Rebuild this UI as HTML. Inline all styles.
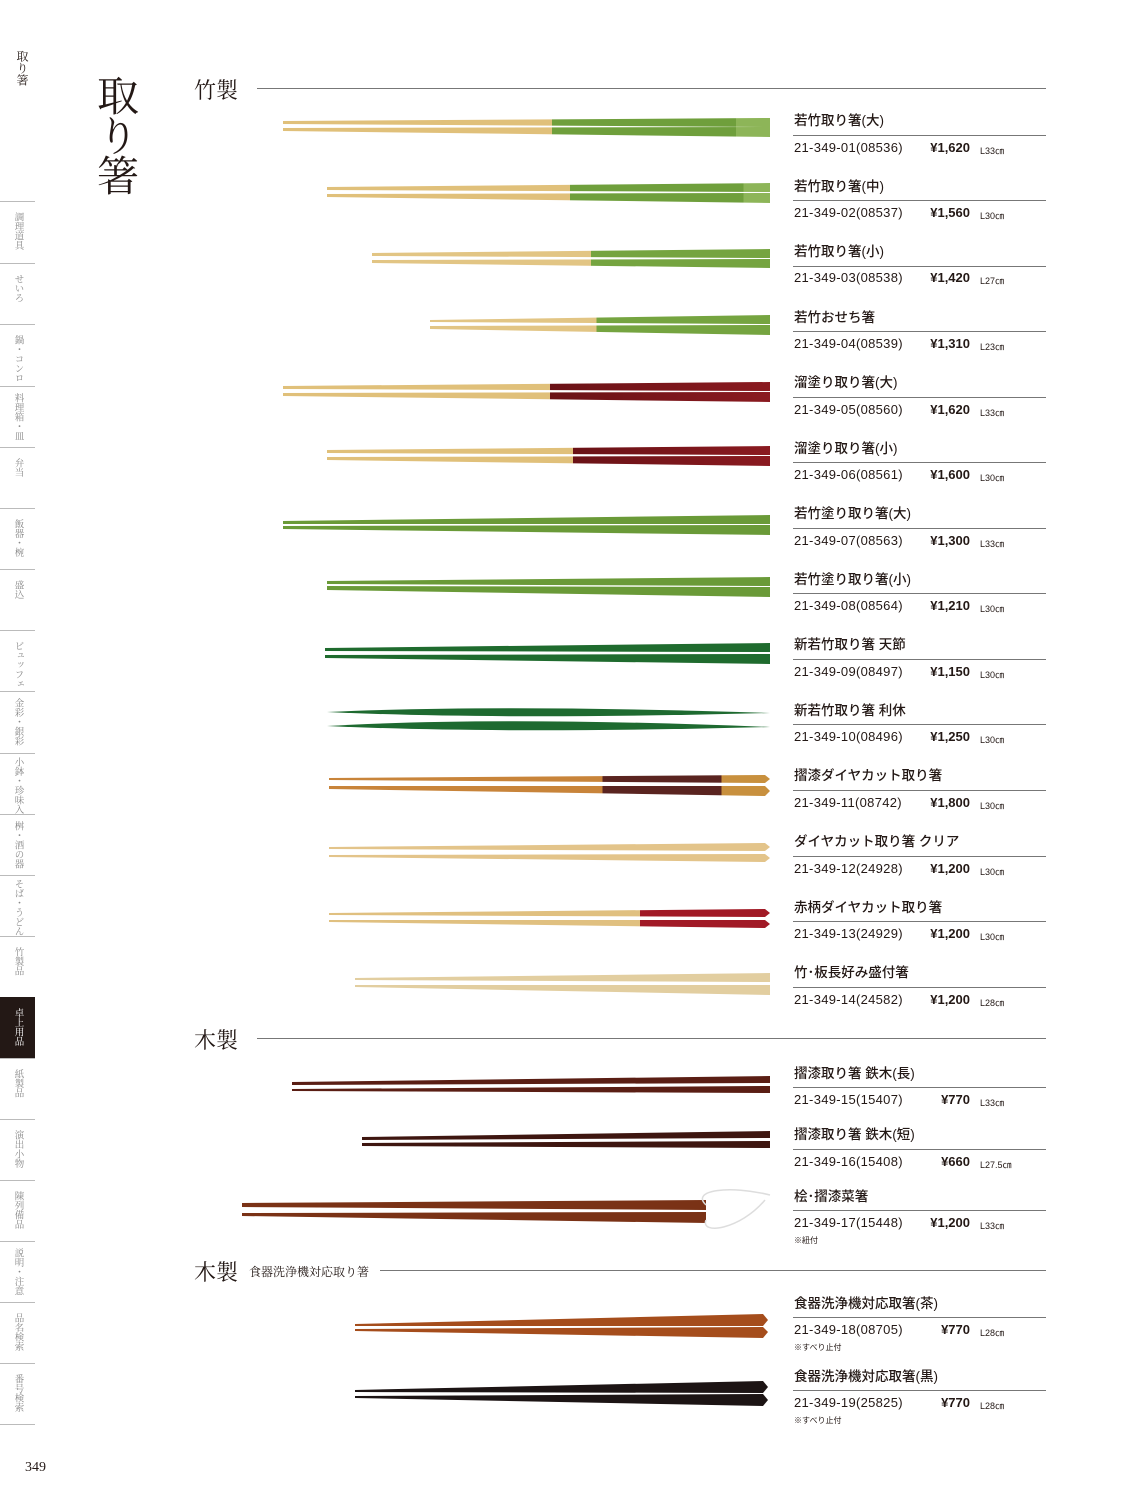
<!DOCTYPE html>
<html><head><meta charset="utf-8">
<style>
*{margin:0;padding:0;box-sizing:border-box}
body{width:1137px;height:1501px;background:#fff;position:relative;overflow:hidden;font-family:"Liberation Sans","Noto Sans CJK JP",sans-serif;color:#231815}
.a{position:absolute;white-space:nowrap}
.serif{font-family:"Liberation Serif","Noto Serif CJK SC",serif}
.v{writing-mode:vertical-rl;text-orientation:upright}
.side{position:absolute;left:0;width:35px;border-top:1px solid #bbb;color:#888;font-size:9.5px;line-height:10px;font-family:"Liberation Serif","Noto Serif CJK SC",serif;display:flex;justify-content:center;padding-top:10px}
.side span{writing-mode:vertical-rl;white-space:nowrap}
.nm{font-size:13.5px;font-weight:500}
.cd{font-size:13px;letter-spacing:0.3px}
.pr{font-size:13px;font-weight:bold;text-align:right;width:80px}
.ln{font-size:9px}
.nt{font-size:8px}
.hl{position:absolute;height:1px;background:#777}
</style></head><body>

<div class="a serif v" style="left:14px;top:50px;font-size:12px">取り箸</div>
<div class="a serif v" style="left:91px;top:74px;font-size:42px;line-height:46px;letter-spacing:-2px">取り箸</div>

<div class="side" style="top:201px;height:62px"><span>調理道具</span></div>
<div class="side" style="top:263px;height:61px"><span>せいろ</span></div>
<div class="side" style="top:324px;height:62px"><span>鍋・コンロ</span></div>
<div class="side" style="top:386px;height:61px;padding-top:6px"><span>料理箱・皿</span></div>
<div class="side" style="top:447px;height:61px"><span>弁当</span></div>
<div class="side" style="top:508px;height:61px"><span>飯器・椀</span></div>
<div class="side" style="top:569px;height:61px"><span>盛込</span></div>
<div class="side" style="top:630px;height:61px"><span>ビュッフェ</span></div>
<div class="side" style="top:691px;height:62px;padding-top:6px"><span>金彩・銀彩</span></div>
<div class="side" style="top:753px;height:61px;padding-top:3px"><span>小鉢・珍味入</span></div>
<div class="side" style="top:814px;height:61px;padding-top:6px"><span>桝・酒の器</span></div>
<div class="side" style="top:875px;height:61px;padding-top:3px"><span>そば・うどん</span></div>
<div class="side" style="top:936px;height:61px"><span>竹製品</span></div>
<div class="side" style="top:997px;height:61px;background:#231815;color:#fff;border-color:#231815"><span>卓上用品</span></div>
<div class="side" style="top:1058px;height:61px"><span>紙製品</span></div>
<div class="side" style="top:1119px;height:61px"><span>演出小物</span></div>
<div class="side" style="top:1180px;height:61px"><span>陳列備品</span></div>
<div class="side" style="top:1241px;height:61px;padding-top:6px"><span>説明・注意</span></div>
<div class="side" style="top:1302px;height:61px"><span>品名検索</span></div>
<div class="side" style="top:1363px;height:61px"><span>番号検索</span></div>
<div style="position:absolute;left:0;top:1424px;width:35px;height:1px;background:#bbb"></div>
<div class="a serif" style="left:25px;top:1460px;font-size:14px">349</div>

<div class="a serif" style="left:194px;top:74px;font-size:22px">竹製</div>
<div class="hl" style="left:257px;top:88px;width:789px"></div>
<div class="a serif" style="left:194px;top:1024px;font-size:22px">木製</div>
<div class="hl" style="left:257px;top:1038px;width:789px"></div>
<div class="a serif" style="left:194px;top:1256px;font-size:22px">木製</div>
<div class="a serif" style="left:249px;top:1263px;font-size:12px">食器洗浄機対応取り箸</div>
<div class="hl" style="left:380px;top:1270px;width:666px"></div>

<svg class="a" style="left:0;top:0" width="1137" height="1501" viewBox="0 0 1137 1501">
<defs>
<linearGradient id="g1" gradientUnits="userSpaceOnUse" x1="283" x2="770"><stop offset="0.552" stop-color="#e0c07a"/><stop offset="0.552" stop-color="#6f9f3c"/><stop offset="0.93" stop-color="#6f9f3c"/><stop offset="0.93" stop-color="#8db558"/></linearGradient>
<linearGradient id="g2" gradientUnits="userSpaceOnUse" x1="327" x2="770"><stop offset="0.548" stop-color="#e0c07a"/><stop offset="0.548" stop-color="#6f9f3c"/><stop offset="0.94" stop-color="#6f9f3c"/><stop offset="0.94" stop-color="#8db558"/></linearGradient>
<linearGradient id="g3" gradientUnits="userSpaceOnUse" x1="372" x2="770"><stop offset="0.55" stop-color="#e2c584"/><stop offset="0.55" stop-color="#75a440"/></linearGradient>
<linearGradient id="g4" gradientUnits="userSpaceOnUse" x1="430" x2="770"><stop offset="0.49" stop-color="#e2c584"/><stop offset="0.49" stop-color="#75a440"/></linearGradient>
<linearGradient id="g5" gradientUnits="userSpaceOnUse" x1="283" x2="770"><stop offset="0.548" stop-color="#e0c07a"/><stop offset="0.548" stop-color="#6a1216"/><stop offset="1" stop-color="#8a1a20"/></linearGradient>
<linearGradient id="g6" gradientUnits="userSpaceOnUse" x1="327" x2="770"><stop offset="0.555" stop-color="#e0c07a"/><stop offset="0.555" stop-color="#6a1216"/><stop offset="1" stop-color="#8a1a20"/></linearGradient>
<linearGradient id="g11" gradientUnits="userSpaceOnUse" x1="329" x2="770"><stop offset="0.62" stop-color="#c8843a"/><stop offset="0.62" stop-color="#5a2420"/><stop offset="0.89" stop-color="#5a2420"/><stop offset="0.89" stop-color="#c8903e"/></linearGradient>
<linearGradient id="g13" gradientUnits="userSpaceOnUse" x1="329" x2="770"><stop offset="0.705" stop-color="#e0c080"/><stop offset="0.705" stop-color="#a11a26"/></linearGradient>
</defs>
<g>
<polygon fill="url(#g1)" points="283,121 770,118 770,127 283,124"/><polygon fill="url(#g1)" points="283,128 770,127 770,137 283,131"/>
<polygon fill="url(#g2)" points="327,187 770,183 770,192 327,190"/><polygon fill="url(#g2)" points="327,194 770,193 770,203 327,197"/>
<polygon fill="url(#g3)" points="372,253 770,249 770,258 372,256"/><polygon fill="url(#g3)" points="372,260 770,259 770,268 372,263"/>
<polygon fill="url(#g4)" points="430,320 770,315 770,324 430,322"/><polygon fill="url(#g4)" points="430,326 770,325 770,335 430,329"/>
<polygon fill="url(#g5)" points="283,386 770,382 770,391 283,389"/><polygon fill="url(#g5)" points="283,393 770,392 770,402 283,396"/>
<polygon fill="url(#g6)" points="327,450 770,446 770,455 327,453"/><polygon fill="url(#g6)" points="327,457 770,456 770,466 327,460"/>
<polygon fill="#6a9a38" points="283,521 770,515 770,524 283,524"/><polygon fill="#6a9a38" points="283,526 770,525 770,535 283,529"/>
<polygon fill="#6a9a38" points="327,581 770,577 770,586 327,584"/><polygon fill="#6a9a38" points="327,586 770,587 770,597 327,590"/>
<polygon fill="#1f6b2e" points="325,648 770,643 770,652 325,651"/><polygon fill="#1f6b2e" points="325,655 770,654 770,664 325,658"/>
<path fill="#1e6a30" d="M327,712 Q500,704 770,713 Q500,720 327,712Z"/><path fill="#1e6a30" d="M327,726 Q500,716 770,727 Q500,734 327,726Z"/>
<polygon fill="url(#g11)" points="329,778 765,775 770,779 765,783 329,780"/><polygon fill="url(#g11)" points="329,786 765,786 770,791 765,796 329,789"/>
<polygon fill="#e3c48a" points="329,847 765,843 770,847 765,851 329,849"/><polygon fill="#e3c48a" points="329,855 765,854 770,858 765,862 329,857"/>
<polygon fill="url(#g13)" points="329,913 765,909 770,913 765,917 329,915"/><polygon fill="url(#g13)" points="329,920 765,920 770,924 765,928 329,922"/>
<polygon fill="#e2cea0" points="355,978 770,973 770,982 355,980"/><polygon fill="#e2cea0" points="355,985 770,985 770,995 355,987"/>
<polygon fill="#5a1e14" points="292,1082 770,1076 770,1083 292,1085"/><polygon fill="#5a1e14" points="292,1089 770,1086 770,1093 292,1091"/>
<polygon fill="#3e1610" points="362,1137 770,1131 770,1138 362,1140"/><polygon fill="#3e1610" points="362,1143 770,1141 770,1148 362,1146"/>
<polygon fill="#7a3216" points="242,1203 706,1200 706,1210 242,1207"/><polygon fill="#7a3216" points="242,1213 706,1212 706,1223 242,1216"/>
<path d="M706,1205 C690,1190 730,1185 770,1195 M706,1220 C700,1235 740,1230 765,1200" stroke="#ddd" stroke-width="1.5" fill="none"/>
<polygon fill="#a54d1c" points="355,1324 763,1314 768,1320 763,1326 355,1326"/><polygon fill="#a54d1c" points="355,1329 763,1327 768,1332 763,1338 355,1331"/>
<polygon fill="#1c1414" points="355,1390 763,1381 768,1387 763,1393 355,1392"/><polygon fill="#1c1414" points="355,1396 763,1394 768,1400 763,1406 355,1398"/>
</g>
</svg>

<div class="a nm" style="left:794px;top:109px">若竹取り箸(大)</div><div class="hl" style="left:793px;top:135px;width:253px"></div><div class="a cd" style="left:794px;top:140px">21-349-01(08536)</div><div class="a pr" style="left:890px;top:140px">¥1,620</div><div class="a ln" style="left:980px;top:144px">L33㎝</div>
<div class="a nm" style="left:794px;top:175px">若竹取り箸(中)</div><div class="hl" style="left:793px;top:200px;width:253px"></div><div class="a cd" style="left:794px;top:205px">21-349-02(08537)</div><div class="a pr" style="left:890px;top:205px">¥1,560</div><div class="a ln" style="left:980px;top:209px">L30㎝</div>
<div class="a nm" style="left:794px;top:240px">若竹取り箸(小)</div><div class="hl" style="left:793px;top:266px;width:253px"></div><div class="a cd" style="left:794px;top:270px">21-349-03(08538)</div><div class="a pr" style="left:890px;top:270px">¥1,420</div><div class="a ln" style="left:980px;top:274px">L27㎝</div>
<div class="a nm" style="left:794px;top:306px">若竹おせち箸</div><div class="hl" style="left:793px;top:331px;width:253px"></div><div class="a cd" style="left:794px;top:336px">21-349-04(08539)</div><div class="a pr" style="left:890px;top:336px">¥1,310</div><div class="a ln" style="left:980px;top:340px">L23㎝</div>
<div class="a nm" style="left:794px;top:371px">溜塗り取り箸(大)</div><div class="hl" style="left:793px;top:397px;width:253px"></div><div class="a cd" style="left:794px;top:402px">21-349-05(08560)</div><div class="a pr" style="left:890px;top:402px">¥1,620</div><div class="a ln" style="left:980px;top:406px">L33㎝</div>
<div class="a nm" style="left:794px;top:437px">溜塗り取り箸(小)</div><div class="hl" style="left:793px;top:462px;width:253px"></div><div class="a cd" style="left:794px;top:467px">21-349-06(08561)</div><div class="a pr" style="left:890px;top:467px">¥1,600</div><div class="a ln" style="left:980px;top:471px">L30㎝</div>
<div class="a nm" style="left:794px;top:502px">若竹塗り取り箸(大)</div><div class="hl" style="left:793px;top:528px;width:253px"></div><div class="a cd" style="left:794px;top:533px">21-349-07(08563)</div><div class="a pr" style="left:890px;top:533px">¥1,300</div><div class="a ln" style="left:980px;top:537px">L33㎝</div>
<div class="a nm" style="left:794px;top:568px">若竹塗り取り箸(小)</div><div class="hl" style="left:793px;top:593px;width:253px"></div><div class="a cd" style="left:794px;top:598px">21-349-08(08564)</div><div class="a pr" style="left:890px;top:598px">¥1,210</div><div class="a ln" style="left:980px;top:602px">L30㎝</div>
<div class="a nm" style="left:794px;top:633px">新若竹取り箸 天節</div><div class="hl" style="left:793px;top:659px;width:253px"></div><div class="a cd" style="left:794px;top:664px">21-349-09(08497)</div><div class="a pr" style="left:890px;top:664px">¥1,150</div><div class="a ln" style="left:980px;top:668px">L30㎝</div>
<div class="a nm" style="left:794px;top:699px">新若竹取り箸 利休</div><div class="hl" style="left:793px;top:724px;width:253px"></div><div class="a cd" style="left:794px;top:729px">21-349-10(08496)</div><div class="a pr" style="left:890px;top:729px">¥1,250</div><div class="a ln" style="left:980px;top:733px">L30㎝</div>
<div class="a nm" style="left:794px;top:764px">摺漆ダイヤカット取り箸</div><div class="hl" style="left:793px;top:790px;width:253px"></div><div class="a cd" style="left:794px;top:795px">21-349-11(08742)</div><div class="a pr" style="left:890px;top:795px">¥1,800</div><div class="a ln" style="left:980px;top:799px">L30㎝</div>
<div class="a nm" style="left:794px;top:830px">ダイヤカット取り箸 クリア</div><div class="hl" style="left:793px;top:856px;width:253px"></div><div class="a cd" style="left:794px;top:861px">21-349-12(24928)</div><div class="a pr" style="left:890px;top:861px">¥1,200</div><div class="a ln" style="left:980px;top:865px">L30㎝</div>
<div class="a nm" style="left:794px;top:896px">赤柄ダイヤカット取り箸</div><div class="hl" style="left:793px;top:921px;width:253px"></div><div class="a cd" style="left:794px;top:926px">21-349-13(24929)</div><div class="a pr" style="left:890px;top:926px">¥1,200</div><div class="a ln" style="left:980px;top:930px">L30㎝</div>
<div class="a nm" style="left:794px;top:961px">竹･板長好み盛付箸</div><div class="hl" style="left:793px;top:987px;width:253px"></div><div class="a cd" style="left:794px;top:992px">21-349-14(24582)</div><div class="a pr" style="left:890px;top:992px">¥1,200</div><div class="a ln" style="left:980px;top:996px">L28㎝</div>
<div class="a nm" style="left:794px;top:1062px">摺漆取り箸 鉄木(長)</div><div class="hl" style="left:793px;top:1087px;width:253px"></div><div class="a cd" style="left:794px;top:1092px">21-349-15(15407)</div><div class="a pr" style="left:890px;top:1092px">¥770</div><div class="a ln" style="left:980px;top:1096px">L33㎝</div>
<div class="a nm" style="left:794px;top:1123px">摺漆取り箸 鉄木(短)</div><div class="hl" style="left:793px;top:1149px;width:253px"></div><div class="a cd" style="left:794px;top:1154px">21-349-16(15408)</div><div class="a pr" style="left:890px;top:1154px">¥660</div><div class="a ln" style="left:980px;top:1158px">L27.5㎝</div>
<div class="a nm" style="left:794px;top:1185px">桧･摺漆菜箸</div><div class="hl" style="left:793px;top:1210px;width:253px"></div><div class="a cd" style="left:794px;top:1215px">21-349-17(15448)</div><div class="a pr" style="left:890px;top:1215px">¥1,200</div><div class="a ln" style="left:980px;top:1219px">L33㎝</div><div class="a nt" style="left:794px;top:1235px">※紐付</div>
<div class="a nm" style="left:794px;top:1292px">食器洗浄機対応取箸(茶)</div><div class="hl" style="left:793px;top:1317px;width:253px"></div><div class="a cd" style="left:794px;top:1322px">21-349-18(08705)</div><div class="a pr" style="left:890px;top:1322px">¥770</div><div class="a ln" style="left:980px;top:1326px">L28㎝</div><div class="a nt" style="left:794px;top:1342px">※すべり止付</div>
<div class="a nm" style="left:794px;top:1365px">食器洗浄機対応取箸(黒)</div><div class="hl" style="left:793px;top:1390px;width:253px"></div><div class="a cd" style="left:794px;top:1395px">21-349-19(25825)</div><div class="a pr" style="left:890px;top:1395px">¥770</div><div class="a ln" style="left:980px;top:1399px">L28㎝</div><div class="a nt" style="left:794px;top:1415px">※すべり止付</div>
</body></html>
